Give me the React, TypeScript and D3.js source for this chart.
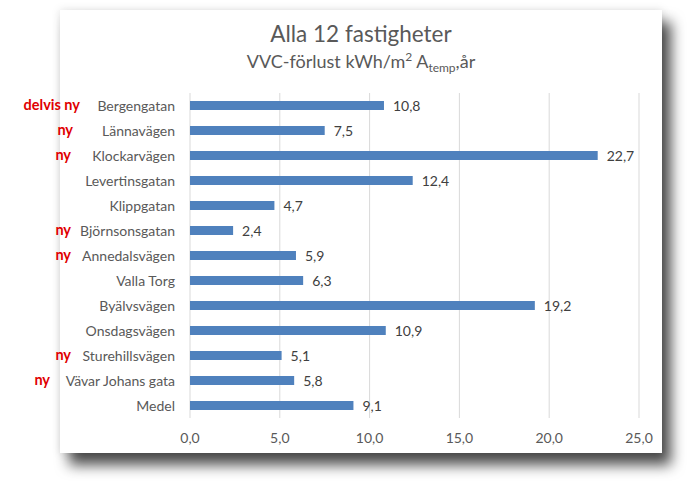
import React from "react";
import * as d3 from "d3";

const categories = [
  "Bergengatan",
  "Lännavägen",
  "Klockarvägen",
  "Levertinsgatan",
  "Klippgatan",
  "Björnsonsgatan",
  "Annedalsvägen",
  "Valla Torg",
  "Byälvsvägen",
  "Onsdagsvägen",
  "Sturehillsvägen",
  "Vävar Johans gata",
  "Medel",
];
const values = [10.8, 7.5, 22.7, 12.4, 4.7, 2.4, 5.9, 6.3, 19.2, 10.9, 5.1, 5.8, 9.1];
const xTicks = [0, 5, 10, 15, 20, 25];
const noteCategories = ["Bergengatan", "Lännavägen", "Klockarvägen", "Björnsonsgatan", "Annedalsvägen", "Sturehillsvägen", "Vävar Johans gata"];
const noteTexts = ["delvis ny", "ny", "ny", "ny", "ny", "ny", "ny"];
const noteRightEdges = [80, 73, 71, 71, 71, 71, 50];

const W = 699;
const H = 490;
const FONT = "Lato, 'Open Sans', sans-serif";

export default function App() {
  const x = d3.scaleLinear().domain([0, 25]).range([190, 639]);
  const y = d3.scaleBand<string>().domain(categories).range([93, 418]).paddingInner(0.64).paddingOuter(0.32);
  const fmt = (v: number) => v.toFixed(1).replace(".", ",");
  const grid0 = 93;
  const grid1 = 418;

  return (
    <svg width={W} height={H} style={{ position: "absolute", left: 0, top: 0, background: "#ffffff" }}>
      <defs>
        <filter id="shadow" x="-10%" y="-10%" width="130%" height="130%">
          <feDropShadow dx="9" dy="12" stdDeviation="7" floodColor="#000" floodOpacity="0.7" />
        </filter>
        <filter id="soft" x="-10%" y="-10%" width="130%" height="130%">
          <feDropShadow dx="0" dy="0" stdDeviation="4" floodColor="#000" floodOpacity="0.12" />
        </filter>
      </defs>
      <rect x={60} y={10} width={602} height={443} fill="#ffffff" filter="url(#soft)" />
      <rect x={60} y={10} width={602} height={443} fill="#ffffff" filter="url(#shadow)" />
      <rect x={60} y={10} width={602} height={443} fill="#ffffff" />

      <text x={361} y={42} textAnchor="middle" fontFamily={FONT} fontSize={22.5} fill="#595959">
        Alla 12 fastigheter
      </text>
      <text x={361} y={68} textAnchor="middle" fontFamily={FONT} fontSize={18} fill="#595959">
        VVC-förlust kWh/m
        <tspan fontSize={12} dy={-7}>2</tspan>
        <tspan dy={7}> A</tspan>
        <tspan fontSize={12} dy={4}>temp</tspan>
        <tspan dy={-4}>,år</tspan>
      </text>

      {xTicks.map((t) => (
        <g key={t}>
          <line x1={x(t)} x2={x(t)} y1={grid0} y2={grid1} stroke="#d9d9d9" strokeWidth={1} />
          <text x={x(t)} y={443} textAnchor="middle" fontFamily={FONT} fontSize={14} fill="#595959">
            {fmt(t)}
          </text>
        </g>
      ))}

      {categories.map((c, i) => {
        const yc = (y(c) as number) + y.bandwidth() / 2;
        return (
          <g key={c}>
            <rect x={x(0)} y={y(c)} width={x(values[i]) - x(0)} height={y.bandwidth()} fill="#4F81BD" />
            <text x={x(values[i]) + 9} y={yc + 5} fontFamily={FONT} fontSize={14} fill="#404040">
              {fmt(values[i])}
            </text>
            <text x={175} y={yc + 5} textAnchor="end" fontFamily={FONT} fontSize={14} fill="#595959">
              {c}
            </text>
          </g>
        );
      })}

      {noteCategories.map((c, i) => {
        const yc = (y(c) as number) + y.bandwidth() / 2;
        return (
          <text key={c} x={noteRightEdges[i]} y={yc + 4} textAnchor="end" fontFamily={FONT} fontSize={14.5} fontWeight="bold" fill="#e00000">
            {noteTexts[i]}
          </text>
        );
      })}
    </svg>
  );
}
